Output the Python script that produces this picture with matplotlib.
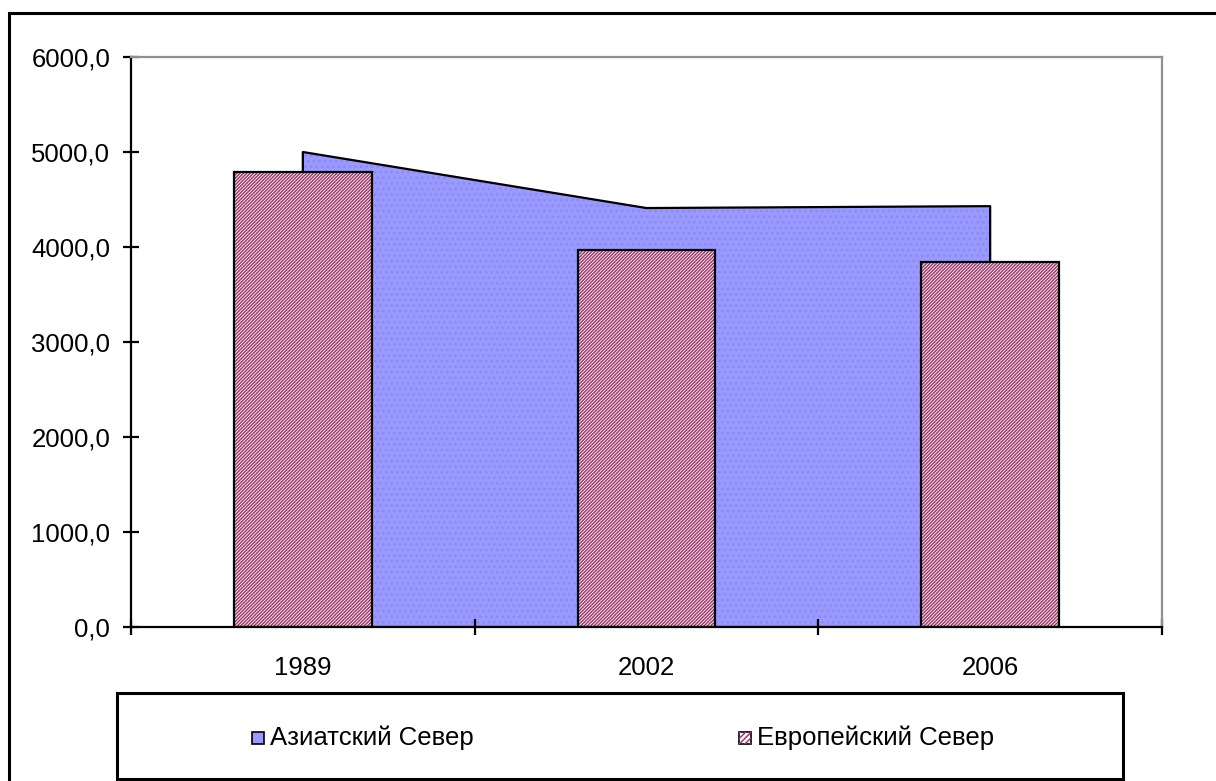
import matplotlib.pyplot as plt
from matplotlib.patches import Rectangle

plt.rcParams["font.family"] = ["Liberation Sans", "DejaVu Sans"]
plt.rcParams["hatch.linewidth"] = 1.1

# data
years = ["1989", "2002", "2006"]
asian_north = [5000.0, 4410.0, 4430.0]
european_north = [4790.0, 3968.0, 3841.0]
y_ticks = [0, 1000, 2000, 3000, 4000, 5000, 6000]

asian_label = "Азиатский Север"
european_label = "Европейский Север"

fs = 18.5

fig = plt.figure(figsize=(12.16, 7.81), dpi=100)
ax = fig.add_axes([131 / 1216, 1 - 627 / 781, (1162 - 131) / 1216, (627 - 57) / 781])

x = list(range(len(years)))

# area series behind the bars
ax.fill_between(x, asian_north, 0, facecolor="#9999ff", edgecolor="none", zorder=1)
ax.fill_between(x, asian_north, 0, facecolor="none", edgecolor="#8a8af2",
                hatch="...", linewidth=0, zorder=1.1)
ax.fill_between(x, asian_north, 0, facecolor="none", edgecolor="black",
                linewidth=1.6, zorder=1.2)

# hatched bars
ax.bar(x, european_north, width=0.4, color="white", edgecolor="#a03a6e",
       hatch="//////////", linewidth=0, zorder=2)
ax.bar(x, european_north, width=0.4, color="none", edgecolor="black",
       linewidth=1.6, zorder=2.1)

ax.set_xlim(-0.5, 2.5)
ax.set_ylim(0, 6000)

# axis styling, excel-like
for side in ["left", "bottom"]:
    ax.spines[side].set_color("black")
    ax.spines[side].set_linewidth(1.6)
for side in ["top", "right"]:
    ax.spines[side].set_color("#909090")
    ax.spines[side].set_linewidth(1.6)

ax.set_yticks(y_ticks)
ax.set_yticklabels([f"{v:.1f}".replace(".", ",") for v in y_ticks], fontsize=fs)
ax.tick_params(axis="y", direction="inout", length=11, width=1.6, pad=9.5)

ax.set_xticks([-0.5, 0.5, 1.5, 2.5])
ax.set_xticklabels([])
ax.tick_params(axis="x", which="major", direction="inout", length=11.5, width=1.6)
ax.set_xticks(x, minor=True)
ax.set_xticklabels(years, minor=True, fontsize=fs)
ax.tick_params(axis="x", which="minor", length=0, pad=21)

# outer chart frame
fig.add_artist(Rectangle((9 / 1216, -0.05), 1.1, 1 - 13 / 781 + 0.05,
                         transform=fig.transFigure, fill=False,
                         edgecolor="black", linewidth=2.2))

# legend box drawn by hand to match the wide layout
fig.add_artist(Rectangle((117 / 1216, 1 - 779 / 781), (1123 - 117) / 1216, (779 - 693) / 781,
                         transform=fig.transFigure, fill=False,
                         edgecolor="black", linewidth=2.2))
ly = 1 - 738 / 781
sq_w, sq_h = 12 / 1216, 12 / 781
fig.add_artist(Rectangle((252 / 1216, ly - sq_h / 2), sq_w, sq_h, transform=fig.transFigure,
                         facecolor="#9999ff", edgecolor="black", linewidth=1.2))
fig.text(270 / 1216, ly, asian_label, fontsize=fs, va="center", ha="left")
fig.add_artist(Rectangle((739 / 1216, ly - sq_h / 2), sq_w, sq_h, transform=fig.transFigure,
                         facecolor="white", edgecolor="black", linewidth=1.2))
fig.add_artist(Rectangle((739 / 1216, ly - sq_h / 2), sq_w, sq_h, transform=fig.transFigure,
                         facecolor="none", edgecolor="#a03a6e", hatch="//////", linewidth=0))
fig.text(757 / 1216, ly, european_label, fontsize=fs, va="center", ha="left")

fig.savefig("out.png", dpi=100)
